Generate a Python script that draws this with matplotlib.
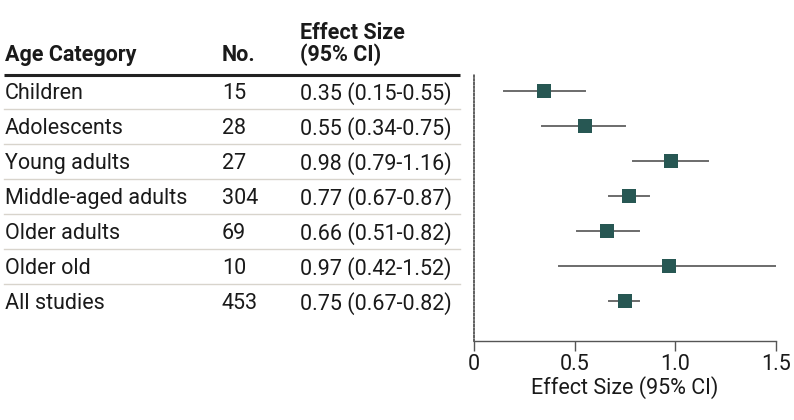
import matplotlib
matplotlib.use("Agg")
import matplotlib.pyplot as plt
import matplotlib.transforms as mtransforms

plt.rcParams['font.family'] = ['Roboto', 'DejaVu Sans']

# data
categories = ['Children', 'Adolescents', 'Young adults', 'Middle-aged adults',
              'Older adults', 'Older old', 'All studies']
n_studies = [15, 28, 27, 304, 69, 10, 453]
effect = [0.35, 0.55, 0.98, 0.77, 0.66, 0.97, 0.75]
ci_low = [0.15, 0.34, 0.79, 0.67, 0.51, 0.42, 0.67]
ci_high = [0.55, 0.75, 1.16, 0.87, 0.82, 1.52, 0.82]

W, H = 794, 420
fig = plt.figure(figsize=(W / 100, H / 100), dpi=100)
ax = fig.add_axes([474 / W, 1 - 341 / H, (776 - 474) / W, (341 - 75) / H])

rows = list(range(len(categories)))
mark_col = '#275753'
txt_col = '#1a1a1a'

# forest plot
for i in rows:
    ax.plot([ci_low[i], ci_high[i]], [i, i], color='#6b6b6b', lw=1.4, zorder=2)
ax.scatter(effect, rows, marker='s', s=105, color=mark_col, zorder=3, linewidths=0)

ax.set_xlim(0, 1.5)
ax.set_ylim(len(categories) - 1 + 40 / 35, -16 / 35)
ax.set_xticks([0, 0.5, 1.0, 1.5])
ax.set_xticklabels(['0', '0.5', '1.0', '1.5'])
ax.tick_params(axis='x', length=7, width=1, color='#555555', labelsize=15.5,
               labelcolor=txt_col, pad=2)
ax.set_yticks([])
for s in ['top', 'right']:
    ax.spines[s].set_visible(False)
ax.spines['left'].set_linestyle((0, (1, 1.2)))
ax.spines['left'].set_color('#444444')
ax.spines['left'].set_linewidth(1.2)
ax.spines['bottom'].set_color('#555555')
ax.spines['bottom'].set_linewidth(1)
ax.set_xlabel('Effect Size (95% CI)', fontsize=15.5, color=txt_col, labelpad=1)
ax.patch.set_visible(False)

# table on the left: x in figure coords, y in row units
tr = mtransforms.blended_transform_factory(fig.transFigure, ax.transData)
x_cat, x_n, x_es = 5 / W, 222 / W, 300 / W
fs = 15.5

def cell(x, y, s, bold=False):
    ax.text(x, y, s, transform=tr, fontsize=fs, va='center_baseline', ha='left',
            color=txt_col, clip_on=False, fontweight='bold' if bold else 'normal')

cell(x_cat, -1.1, 'Age Category', True)
cell(x_n, -1.1, 'No.', True)
cell(x_es, -1.1, '(95% CI)', True)
cell(x_es, -1.74, 'Effect Size', True)

ax.plot([4 / W, 460 / W], [-16 / 35, -16 / 35], transform=tr, color='#222222',
        lw=2.2, clip_on=False, solid_capstyle='butt')

for i in rows:
    cell(x_cat, i, categories[i])
    cell(x_n, i, str(n_studies[i]))
    cell(x_es, i, f'{effect[i]:.2f} ({ci_low[i]:.2f}-{ci_high[i]:.2f})')
    if i < len(categories) - 1:
        ax.plot([4 / W, 460 / W], [i + 0.5, i + 0.5], transform=tr,
                color='#d8d4cc', lw=1, clip_on=False)

fig.savefig('out.png', dpi=100)
